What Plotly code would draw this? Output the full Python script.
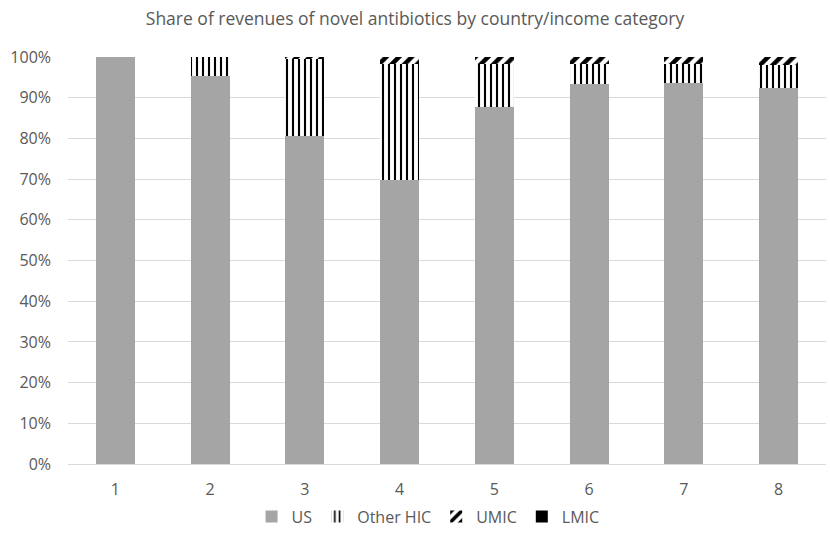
import plotly.graph_objects as go

# Revenue share of novel antibiotics, by buyer country / income group
products = ["1", "2", "3", "4", "5", "6", "7", "8"]
us_share = [100.0, 95.4, 80.6, 69.8, 87.8, 93.4, 93.6, 92.5]
other_hic_share = [0.0, 4.6, 19.0, 28.6, 10.4, 4.8, 4.6, 5.6]
umic_share = [0.0, 0.0, 0.4, 1.6, 1.8, 1.8, 1.8, 1.9]
lmic_share = [0.0, 0.0, 0.0, 0.0, 0.0, 0.0, 0.0, 0.0]

text_color = "#595959"
font_family = "Open Sans, Liberation Sans, sans-serif"

fig = go.Figure()
fig.add_trace(go.Bar(
    name="US", x=products, y=[v / 100 for v in us_share],
    marker=dict(color="#A5A5A5", line=dict(width=0)),
))
fig.add_trace(go.Bar(
    name="Other HIC", x=products, y=[v / 100 for v in other_hic_share],
    marker=dict(color="white", line=dict(width=0),
                pattern=dict(shape="|", fgcolor="black", bgcolor="white",
                             size=6, solidity=0.35, fillmode="replace")),
))
fig.add_trace(go.Bar(
    name="UMIC", x=products, y=[v / 100 for v in umic_share],
    marker=dict(color="white", line=dict(width=0),
                pattern=dict(shape="/", fgcolor="black", bgcolor="white",
                             size=9, solidity=0.5, fillmode="replace")),
))
fig.add_trace(go.Bar(
    name="LMIC", x=products, y=[v / 100 for v in lmic_share],
    marker=dict(color="black", line=dict(width=0)),
))

fig.update_layout(
    barmode="stack",
    bargap=0.59,
    width=830, height=537,
    margin=dict(l=68, r=4, t=57, b=69),
    paper_bgcolor="white",
    plot_bgcolor="white",
    font=dict(family=font_family, color=text_color, size=16),
    title=dict(
        text="Share of revenues of novel antibiotics by country/income category",
        x=0.5, xanchor="center", y=0.965, yanchor="middle",
        font=dict(size=17.5, color=text_color, family=font_family),
    ),
    legend=dict(
        orientation="h", x=0.475, xanchor="center", y=-0.129, yanchor="middle",
        font=dict(size=16, color=text_color), traceorder="normal",
        itemwidth=30,
    ),
    xaxis=dict(
        showgrid=False, showline=True, linecolor="#D9D9D9", linewidth=1,
        ticks="", ticklabelstandoff=11,
        tickfont=dict(size=16, color=text_color),
    ),
    yaxis=dict(
        range=[0, 1], dtick=0.1, tickformat=".0%",
        showgrid=True, gridcolor="#D9D9D9", gridwidth=1,
        zeroline=False, showline=False, ticks="",
        ticklabelstandoff=16,
        tickfont=dict(size=16, color=text_color),
    ),
)

fig.write_html("out.html")
